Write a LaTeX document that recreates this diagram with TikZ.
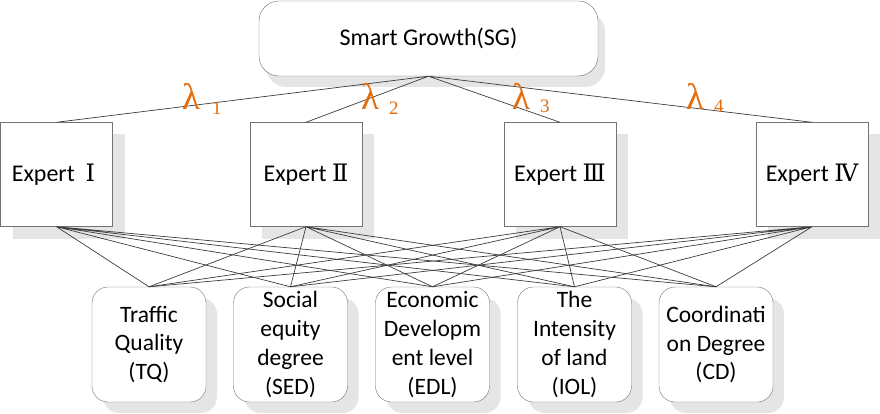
\documentclass[tikz,border=0pt]{standalone}
\usepackage{fontspec}
\setmainfont{Carlito}
\newfontfamily\romfont{DejaVu Serif}
\newfontfamily\lamfont{Liberation Serif}
\usetikzlibrary{shadows}
\definecolor{sgorange}{RGB}{228,108,10}
\definecolor{sgshadow}{RGB}{229,229,229}
\definecolor{sgborder}{RGB}{115,115,115}
\definecolor{sgline}{RGB}{60,60,60}

\begin{document}
\begin{tikzpicture}[x=1pt, y=-1pt,
      goalbox/.style={draw=sgborder, fill=white, rounded corners=20pt, minimum width=339pt, minimum height=75pt, font=\fontsize{24}{28.7}\selectfont, drop shadow={shadow xshift=7pt, shadow yshift=-11pt, fill=sgshadow, opacity=1}},
      expertbox/.style={draw=sgborder, fill=white, minimum width=112pt, minimum height=104pt, inner sep=2pt, font=\fontsize{24}{28.7}\selectfont, drop shadow={shadow xshift=12pt, shadow yshift=-12pt, fill=sgshadow, opacity=1}},
      critbox/.style={draw=sgborder, fill=white, rounded corners=16pt, minimum width=114pt, minimum height=115pt, inner sep=0pt, align=center, font=\fontsize{23.5}{28.7}\selectfont, drop shadow={shadow xshift=11pt, shadow yshift=-11pt, fill=sgshadow, opacity=1}},
      lamlabel/.style={anchor=base west, inner sep=0pt, text=sgorange, font=\lamfont\fontsize{37}{37}\selectfont},
      wire/.style={draw=sgline, line width=0.7pt}
    ]
      \useasboundingbox (0,0) rectangle (880,414);

      \node[goalbox] (sg) at (428.5,38.5) {Smart Growth(SG)};

      \node[expertbox] (e1) at (56.5,174.5) {\hspace{-6pt}Expert~~{\romfont Ⅰ}};
      \node[expertbox] (e2) at (306,174.5) {Expert~{\romfont Ⅱ}};
      \node[expertbox] (e3) at (560,174.5) {Expert~{\romfont Ⅲ}};
      \node[expertbox] (e4) at (812,174.5) {Expert~{\romfont Ⅳ}};

      \node[critbox] (tq) at (149,344.5) {Traffic\\Quality\\(TQ)};
      \node[critbox] (sed) at (290.5,344.5) {Social\\equity\\degree\\(SED)};
      \node[critbox] (edl) at (432.5,344.5) {Economic\\Developm\\ent level\\(EDL)};
      \node[critbox] (iol) at (574.5,344.5) {The\\Intensity\\of land\\(IOL)};
      \node[critbox] (cd) at (716,344.5) {Coordinati\\on Degree\\(CD)};

      \draw[wire] (sg.south) -- (e1.north) (sg.south) -- (e2.north) (sg.south) -- (e3.north) (sg.south) -- (e4.north);

      \draw[wire] (e1.south) -- (tq.north) (e1.south) -- (sed.north) (e1.south) -- (edl.north) (e1.south) -- (iol.north) (e1.south) -- (cd.north);
      \draw[wire] (e2.south) -- (tq.north) (e2.south) -- (sed.north) (e2.south) -- (edl.north) (e2.south) -- (iol.north) (e2.south) -- (cd.north);
      \draw[wire] (e3.south) -- (tq.north) (e3.south) -- (sed.north) (e3.south) -- (edl.north) (e3.south) -- (iol.north) (e3.south) -- (cd.north);
      \draw[wire] (e4.south) -- (tq.north) (e4.south) -- (sed.north) (e4.south) -- (edl.north) (e4.south) -- (iol.north) (e4.south) -- (cd.north);

      \node[lamlabel] (lam1) at (182,110) {λ\hspace{12pt}\raisebox{-5pt}{\fontsize{19}{19}\selectfont 1}};
      \node[lamlabel] (lam2) at (361,110) {λ\hspace{10pt}\raisebox{-5pt}{\fontsize{19}{19}\selectfont 2}};
      \node[lamlabel] (lam3) at (512,110) {λ\hspace{10pt}\raisebox{-3pt}{\fontsize{19}{19}\selectfont 3}};
      \node[lamlabel] (lam4) at (686,110) {λ\hspace{10pt}\raisebox{-3pt}{\fontsize{19}{19}\selectfont 4}};
    \end{tikzpicture}
\end{document}
